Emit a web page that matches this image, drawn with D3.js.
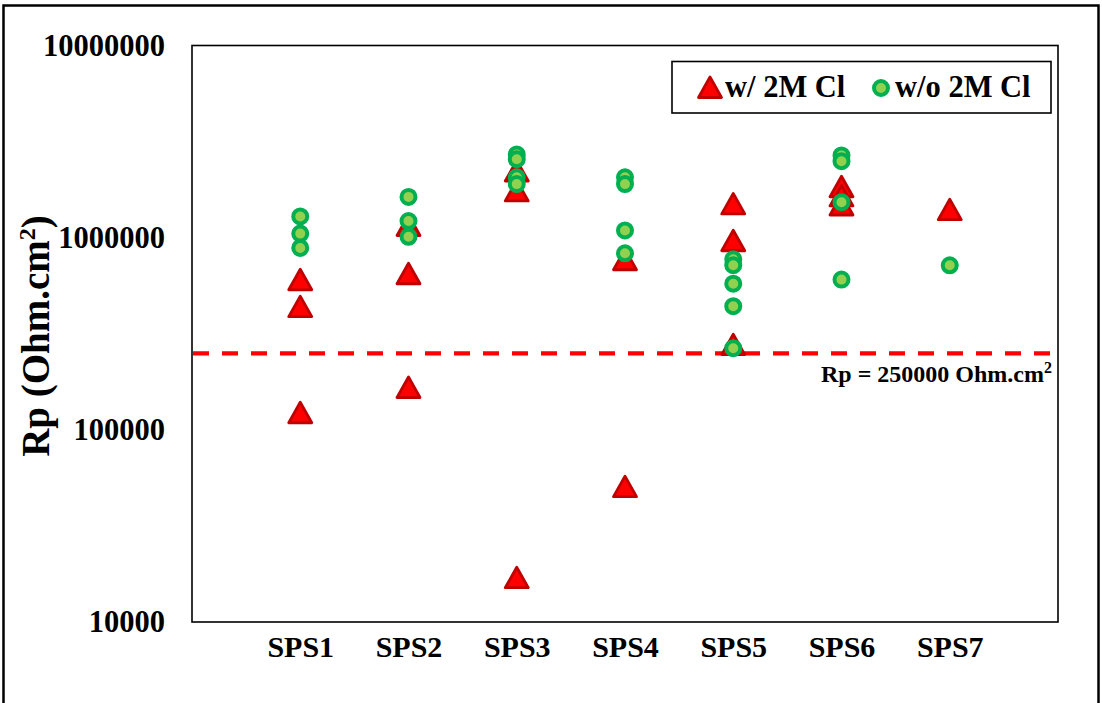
<!DOCTYPE html>
<html>
<head>
<meta charset="utf-8">
<script src="https://cdn.jsdelivr.net/npm/d3@7"></script>
<style>
  html, body { margin: 0; padding: 0; background: #fff; }
  svg { display: block; }
  text { font-family: "Liberation Serif", "Times New Roman", serif; font-weight: bold; fill: #000; }
</style>
</head>
<body>
<svg id="chart" width="1102" height="703"></svg>
<script>
// ---- data ----
const categories = ["SPS1", "SPS2", "SPS3", "SPS4", "SPS5", "SPS6", "SPS7"];
// Rp (Ohm.cm2) with 2M Cl (triangles), one list per category
const withCl = [
  [600000, 435000, 122000],
  [1150000, 645000, 165000],
  [2210000, 1740000, 16900],
  [763000, 50300],
  [1490000, 958000, 276000],
  [1830000, 1640000, 1470000],
  [1390000]
];
// Rp (Ohm.cm2) without 2M Cl (circles)
const withoutCl = [
  [1290000, 1050000, 884000],
  [1630000, 1220000, 1010000],
  [2710000, 2560000, 2060000, 1900000],
  [2060000, 1900000, 1090000, 829000],
  [772000, 719000, 576000, 440000, 266000],
  [2680000, 2500000, 1530000, 605000],
  [718000]
];
const yTicks = [10000, 100000, 1000000, 10000000];
const threshold = 250000;
const seriesNames = ["w/ 2M Cl", "w/o 2M Cl"];

// ---- layout ----
const svg = d3.select("#chart");
const plot = { left: 192, right: 1058, top: 45.5, bottom: 622 };

const x = d3.scaleLinear().domain([0, categories.length + 1]).range([plot.left, plot.right]);
const y = d3.scaleLog().domain([10000, 10000000]).range([plot.bottom, plot.top]);

// outer chart border
svg.append("rect")
  .attr("x", 3.5).attr("y", 5.5).attr("width", 1095).attr("height", 720)
  .attr("fill", "#fff").attr("stroke", "#000").attr("stroke-width", 2.5);

// plot area border
svg.append("rect")
  .attr("x", plot.left).attr("y", plot.top)
  .attr("width", plot.right - plot.left).attr("height", plot.bottom - plot.top)
  .attr("fill", "none").attr("stroke", "#000").attr("stroke-width", 1.6);

// y axis
const yAxis = svg.append("g")
  .attr("transform", `translate(${plot.left},0)`)
  .call(d3.axisLeft(y).tickValues(yTicks).tickSize(0).tickPadding(27).tickFormat(d3.format("d")));
yAxis.select(".domain").remove();
yAxis.selectAll("text")
  .attr("font-family", "Liberation Serif, Times New Roman, serif")
  .attr("font-weight", "bold")
  .attr("font-size", 30.5)
  .attr("fill", "#000");

// x axis
const xAxis = svg.append("g")
  .attr("transform", `translate(0,${plot.bottom})`)
  .call(d3.axisBottom(x).tickValues(d3.range(1, categories.length + 1)).tickSize(0).tickPadding(14)
    .tickFormat(i => categories[i - 1]));
xAxis.select(".domain").remove();
xAxis.selectAll("text")
  .attr("font-family", "Liberation Serif, Times New Roman, serif")
  .attr("font-weight", "bold")
  .attr("font-size", 30)
  .attr("fill", "#000");

// y axis title
const yTitle = svg.append("text")
  .attr("transform", "translate(35,336) rotate(-90)")
  .attr("text-anchor", "middle")
  .attr("dy", "0.35em")
  .attr("font-size", 39);
yTitle.append("tspan").text("Rp (Ohm.cm");
yTitle.append("tspan").attr("font-size", 24).attr("dy", "-0.55em").text("2");
yTitle.append("tspan").attr("dy", "0.34em").text(")");

// threshold line
svg.append("line")
  .attr("x1", plot.left + 1).attr("x2", plot.right - 1)
  .attr("y1", y(threshold)).attr("y2", y(threshold))
  .attr("stroke", "#FF0000").attr("stroke-width", 4.3)
  .attr("stroke-dasharray", "16,13");

const ann = svg.append("text")
  .attr("x", 1052).attr("y", 382)
  .attr("text-anchor", "end")
  .attr("font-size", 24);
ann.append("tspan").text("Rp = 250000 Ohm.cm");
ann.append("tspan").attr("font-size", 16).attr("dy", "-0.55em").text("2");

// markers
const triPath = "M0,-11 L11.5,9.5 L-11.5,9.5 Z";
function drawTriangle(g, cx, cy) {
  g.append("path").attr("d", triPath)
    .attr("transform", `translate(${cx},${cy})`)
    .attr("fill", "#FF0000").attr("stroke", "#C00000")
    .attr("stroke-width", 2.8).attr("stroke-linejoin", "round");
}
function drawCircle(g, cx, cy) {
  g.append("circle").attr("cx", cx).attr("cy", cy).attr("r", 7)
    .attr("fill", "#92D050").attr("stroke", "#00B050").attr("stroke-width", 4);
}

const gTri = svg.append("g");
withCl.forEach((vals, i) => vals.forEach(v => drawTriangle(gTri, x(i + 1), y(v))));
const gCir = svg.append("g");
withoutCl.forEach((vals, i) => vals.forEach(v => drawCircle(gCir, x(i + 1), y(v))));

// legend
svg.append("rect")
  .attr("x", 672).attr("y", 61.5).attr("width", 379).attr("height", 51.5)
  .attr("fill", "#fff").attr("stroke", "#000").attr("stroke-width", 1.6);
const gLeg = svg.append("g");
drawTriangle(gLeg, 710, 88);
svg.append("text").attr("x", 725).attr("y", 97).attr("font-size", 30.5).text(seriesNames[0]);
drawCircle(gLeg, 881, 88);
svg.append("text").attr("x", 895).attr("y", 97).attr("font-size", 30.5).text(seriesNames[1]);
</script>
</body>
</html>
